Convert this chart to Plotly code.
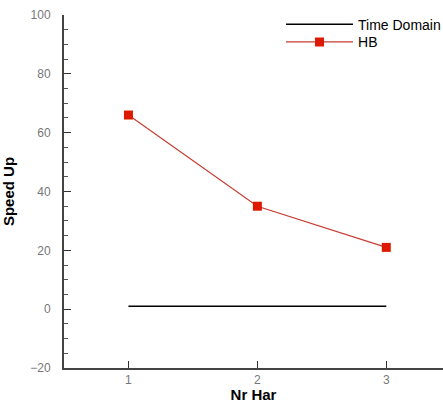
import plotly.graph_objects as go

nr_har = [1, 2, 3]
time_domain = [1, 1, 1]
hb_speedup = [66, 35, 21]

fig = go.Figure()
fig.add_trace(go.Scatter(x=nr_har, y=time_domain, mode="lines", name="Time Domain",
                         line=dict(color="black", width=1.5), legend="legend"))
fig.add_trace(go.Scatter(x=nr_har, y=hb_speedup, mode="lines+markers", name="HB",
                         line=dict(color="#c83c32", width=1.2),
                         marker=dict(symbol="square", size=9, color="#dd1a00"),
                         legend="legend2"))

leg_common = dict(xanchor="left", yanchor="top", bgcolor="rgba(0,0,0,0)",
                  font=dict(size=14, color="black"), itemwidth=67)

fig.update_layout(
    width=443, height=403,
    margin=dict(l=64, r=0, t=15, b=35, autoexpand=False),
    plot_bgcolor="white", paper_bgcolor="white",
    font=dict(family="Liberation Sans, Arial, sans-serif", color="#555"),
    legend=dict(x=0.5726, y=1.018, **leg_common),
    legend2=dict(x=0.5726, y=0.968, **leg_common),
    xaxis=dict(range=[0.5, 3.44], tickvals=[1, 2, 3], ticks="inside", ticklen=7,
               tickcolor="#333", showline=True, linecolor="#444", linewidth=2,
               showgrid=False, zeroline=False, tickfont=dict(size=12, color="#777"),
               automargin=False,
               title=dict(text="<b>Nr Har</b>", font=dict(size=15, color="black"), standoff=0)),
    yaxis=dict(range=[-20, 100], dtick=20, ticks="inside", ticklen=7,
               tickcolor="#333", showline=True, linecolor="#444", linewidth=2,
               showgrid=False, zeroline=False, tickfont=dict(size=12, color="#777"),
               automargin=False, ticklabelstandoff=9,
               minor=dict(dtick=5, ticks="inside", ticklen=4, tickcolor="#555"),
               title=dict(text="<b>Speed Up</b>", font=dict(size=15, color="black"), standoff=12)),
    showlegend=True,
)

fig.write_html("out.html", config={"displayModeBar": False},
               post_script="document.body.style.margin='0px';")
